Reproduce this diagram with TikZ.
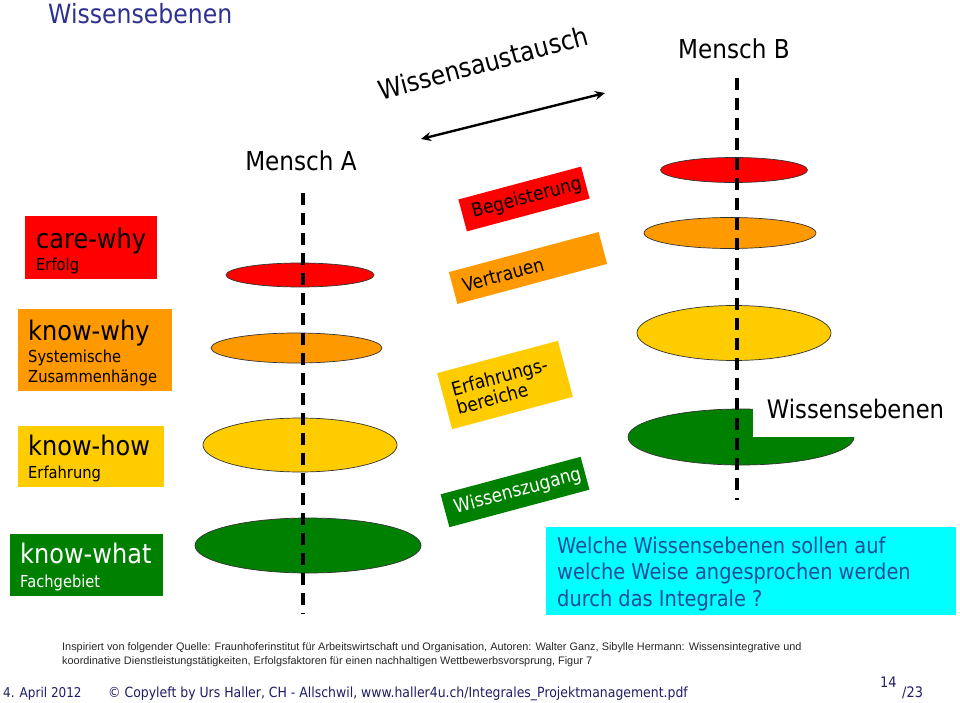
\documentclass[tikz,border=0pt]{standalone}
\usepackage{fontspec}
\setmainfont{DejaVu Sans}[FakeStretch=0.89]
\newfontfamily\srcfont{Liberation Sans}
\usetikzlibrary{shapes.geometric,arrows.meta}
\definecolor{cRed}{HTML}{FF0000}
\definecolor{cOrange}{HTML}{FF9900}
\definecolor{cYellow}{HTML}{FFCC00}
\definecolor{cGreen}{HTML}{008000}
\definecolor{cCyan}{HTML}{00FFFF}
\definecolor{cTitle}{HTML}{2E3192}
\definecolor{cQuest}{HTML}{1F4A9C}
\definecolor{cFoot}{HTML}{1E1E66}
\newcommand{\fz}[2]{\fontsize{#1}{#2}\selectfont}
\begin{document}
\begin{tikzpicture}[x=1pt,y=-1pt,
  lvlbox/.style={draw=none, inner sep=0pt, minimum width=#1},
  lvltxt/.style={anchor=base west, inner sep=0pt},
  tagbox/.style={rotate=15, inner xsep=10pt, inner ysep=0pt, align=left, text width=#1},
  lev/.style={ellipse, draw=black!80, line width=0.7pt, inner sep=0pt},
  axis/.style={line width=3.2pt, dash pattern=on 12pt off 8pt},
  plain/.style={inner sep=0pt}
]
\useasboundingbox (0,0) rectangle (960,703);
\fill[white] (0,0) rectangle (960,703);

% title
\node[plain, anchor=base west, text=cTitle] (title) at (48,24) {\fz{26.5}{30}Wissensebenen};

% left level boxes
\node[lvlbox=132pt, minimum height=63pt, fill=cRed] (bcw) at (91,247.5) {};
\node[lvltxt] (tcw1) at (36,248) {\fz{27}{30}care-why};
\node[lvltxt] (tcw2) at (36,270) {\fz{16.5}{20}Erfolg};

\node[lvlbox=154pt, minimum height=82pt, fill=cOrange] (bkw) at (95,350) {};
\node[lvltxt] (tkw1) at (28,340) {\fz{27}{30}know-why};
\node[lvltxt] (tkw2) at (28,362) {\fz{16.5}{20}Systemische};
\node[lvltxt] (tkw3) at (28,382) {\fz{16.5}{20}Zusammenhänge};

\node[lvlbox=146pt, minimum height=61pt, fill=cYellow] (bkh) at (91,456.5) {};
\node[lvltxt] (tkh1) at (28,455) {\fz{27}{30}know-how};
\node[lvltxt] (tkh2) at (28,478) {\fz{16.5}{20}Erfahrung};

\node[lvlbox=153pt, minimum height=62pt, fill=cGreen] (bkt) at (86.5,565) {};
\node[lvltxt, text=white] (tkt1) at (20,563) {\fz{27}{30}know-what};
\node[lvltxt, text=white] (tkt2) at (20,587) {\fz{16.5}{20}Fachgebiet};

% rotated tags
\node[tagbox=107pt, fill=cRed, minimum height=33pt] (tbeg) at (524,199) {\fz{19}{22}Begeisterung};
\node[tagbox=135pt, fill=cOrange, minimum height=33pt] (tver) at (528,268) {\fz{19}{22}Vertrauen};
\node[tagbox=105pt, fill=cYellow, minimum height=58pt] (terf) at (505,385) {\fz{19}{21}Erfahrungs-\\bereiche};
\node[tagbox=125pt, fill=cGreen, text=white, minimum height=34pt] (twz) at (515,492) {\fz{19}{22}Wissenszugang};

% ellipses person A
\node[lev, fill=cRed, minimum width=148pt, minimum height=24pt] (ea1) at (300,275) {};
\node[lev, fill=cOrange, minimum width=171pt, minimum height=30pt] (ea2) at (296.5,348) {};
\node[lev, fill=cYellow, minimum width=194pt, minimum height=54pt] (ea3) at (300,445) {};
\node[lev, fill=cGreen, minimum width=226pt, minimum height=55pt] (ea4) at (308,545.5) {};

% ellipses person B
\node[lev, fill=cRed, minimum width=147pt, minimum height=25pt] (eb1) at (734,170) {};
\node[lev, fill=cOrange, minimum width=172pt, minimum height=31pt] (eb2) at (730,233) {};
\node[lev, fill=cYellow, minimum width=194pt, minimum height=55pt] (eb3) at (734,333) {};
\node[lev, fill=cGreen, minimum width=226pt, minimum height=56pt] (eb4) at (741,437) {};

% label Wissensebenen over green ellipse
\node[plain, fill=white, minimum width=205pt, minimum height=57pt] (wlab) at (855.5,408.5) {\fz{25.5}{30}Wissensebenen};

% axes
\coordinate (atop) at (303,193);
\coordinate (abot) at (303,614);
\coordinate (btop) at (737,78);
\coordinate (bbot) at (737,500);
\draw[axis] (atop) -- (abot);
\draw[axis] (btop) -- (bbot);

% persons
\node[plain, anchor=base] (pa) at (301,171) {\fz{26}{30}Mensch A};
\node[plain, anchor=base] (pb) at (734,59) {\fz{26}{30}Mensch B};

% exchange
\node[plain, rotate=15] (wa) at (483,63) {\fz{26.5}{30}Wissensaustausch};
\coordinate (arL) at (421,139);
\coordinate (arR) at (605,93);
\draw[line width=2.4pt, {Stealth[length=10pt,width=9pt]}-{Stealth[length=10pt,width=9pt]}] (arL) -- (arR);

% question box
\node[plain, fill=cCyan, minimum width=410pt, minimum height=88pt] (qbox) at (751,571) {};
\node[lvltxt, text=cQuest] (q1) at (557,553) {\fz{21.8}{26}Welche Wissensebenen sollen auf};
\node[lvltxt, text=cQuest] (q2) at (557,579.5) {\fz{21.8}{26}welche Weise angesprochen werden};
\node[lvltxt, text=cQuest] (q3) at (557,606) {\fz{21.8}{26}durch das Integrale ?};

% source
\node[lvltxt, text=black!85] (src1) at (62,650) {\srcfont\fz{10.9}{14}Inspiriert von folgender Quelle: Fraunhoferinstitut für Arbeitswirtschaft und Organisation, Autoren: Walter Ganz, Sibylle Hermann: Wissensintegrative und};
\node[lvltxt, text=black!85] (src2) at (62,664) {\srcfont\fz{10.9}{14}koordinative Dienstleistungstätigkeiten, Erfolgsfaktoren für einen nachhaltigen Wettbewerbsvorsprung, Figur 7};

% footer
\node[lvltxt, text=cFoot] (fdate) at (3,697) {\fz{13.5}{16}4. April 2012};
\node[lvltxt, text=cFoot] (fcopy) at (108,697) {\fz{14}{16}© Copyleft by Urs Haller, CH - Allschwil, www.haller4u.ch/Integrales\_Projektmanagement.pdf};
\node[lvltxt, text=cFoot] (fpg) at (880,687) {\fz{14.5}{16}14};
\node[lvltxt, text=cFoot] (fpt) at (902,697) {\fz{14.5}{16}/23};
\end{tikzpicture}
\end{document}
